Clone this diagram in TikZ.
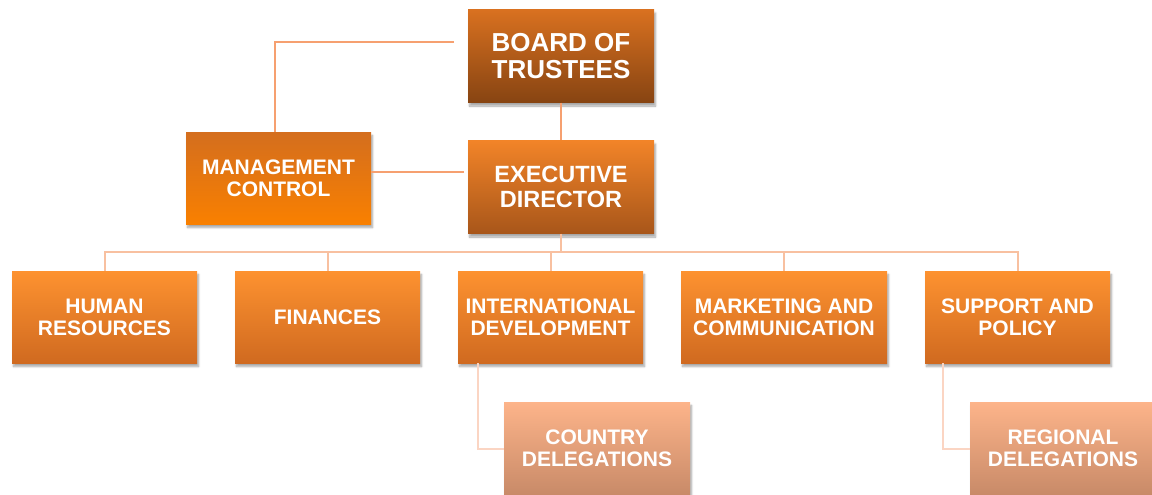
\documentclass[tikz,border=0pt]{standalone}
\usepackage{fontspec}
\setmainfont{Liberation Sans}
\usetikzlibrary{shadows.blur}

\definecolor{boardtop}{RGB}{217,113,32}
\definecolor{boardbot}{RGB}{135,68,18}
\definecolor{mgmttop}{RGB}{212,110,30}
\definecolor{mgmtbot}{RGB}{249,128,0}
\definecolor{exectop}{RGB}{242,132,40}
\definecolor{execbot}{RGB}{168,86,26}
\definecolor{depttop}{RGB}{253,146,48}
\definecolor{deptbot}{RGB}{208,106,32}
\definecolor{delegtop}{RGB}{253,180,138}
\definecolor{delegbot}{RGB}{200,138,104}
\definecolor{linkmain}{RGB}{246,160,112}
\definecolor{linkbus}{RGB}{248,192,160}
\definecolor{linkdeleg}{RGB}{251,213,195}

\tikzset{
  box/.style={minimum width=186pt, minimum height=93pt, inner sep=0pt,
    align=center, text=white,
    blur shadow={shadow xshift=1.5pt, shadow yshift=-3.5pt,
      shadow blur steps=6, shadow opacity=35}},
  topbox/.style={box, font=\bfseries\fontsize{26}{26.5}\selectfont},
  midbox/.style={box, font=\bfseries\fontsize{23.5}{25}\selectfont},
  dept/.style={box, minimum width=185pt, minimum height=92pt,
    top color=depttop, bottom color=deptbot,
    font=\bfseries\fontsize{21}{22}\selectfont},
  deleg/.style={box, top color=delegtop, bottom color=delegbot,
    font=\bfseries\fontsize{21}{22}\selectfont},
  link/.style={draw=linkmain, line width=2.5pt},
  buslink/.style={draw=linkbus, line width=2pt},
  deleglink/.style={draw=linkdeleg, line width=2pt}
}

\begin{document}
\begin{tikzpicture}[x=1pt, y=-1pt]
\useasboundingbox (0,0) rectangle (1152,495);

% top of the chart
\coordinate (bus) at (561,252);

\node[topbox, top color=boardtop, bottom color=boardbot] (board) at (561,56) {BOARD OF\\TRUSTEES};
\node[midbox, top color=exectop, bottom color=execbot] (exec) at (561,187) {EXECUTIVE\\DIRECTOR};
\node[dept, top color=mgmttop, bottom color=mgmtbot] (mgmt) at (278.5,178) {MANAGEMENT\\CONTROL};

\draw[link] ([xshift=-14pt,yshift=14pt]board.west) -| ([xshift=-3.5pt]mgmt.north);
\draw[link] ([yshift=6pt]mgmt.east) -- ([xshift=-4pt,yshift=15pt]exec.west);
\draw[link] (board.south) -- (exec.north);
\draw[buslink] (exec.south) -- (bus);

% departments
\node[dept] (hr)   at (104.5,317) {HUMAN\\RESOURCES};
\node[dept] (fin)  at (327.5,317) {FINANCES};
\node[dept] (intl) at (550.5,317) {INTERNATIONAL\\DEVELOPMENT};
\node[dept, minimum width=206pt] (mkt) at (784,317) {MARKETING AND\\COMMUNICATION};
\node[dept] (sup)  at (1017.5,317) {SUPPORT AND\\POLICY};

\foreach \d in {hr,fin,intl,mkt,sup}
  \draw[buslink] (bus) -| (\d.north);

% delegations
\node[deleg] (country)  at (597,448.5)  {COUNTRY\\DELEGATIONS};
\node[deleg] (regional) at (1063,448.5) {REGIONAL\\DELEGATIONS};

\draw[deleglink] ([xshift=20pt]intl.south west) |- (country.west);
\draw[deleglink] ([xshift=18pt]sup.south west) |- (regional.west);
\end{tikzpicture}
\end{document}
